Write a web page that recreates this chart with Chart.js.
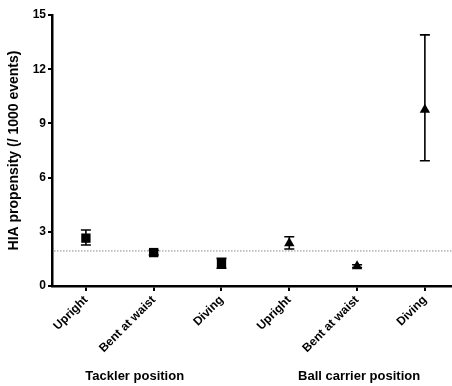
<!DOCTYPE html>
<html>
<head>
<meta charset="utf-8">
<script src="https://cdn.jsdelivr.net/npm/chart.js@4/dist/chart.umd.min.js"></script>
<style>
  html, body { margin: 0; padding: 0; background: #fff; }
  #wrap { width: 452px; height: 386px; }
</style>
</head>
<body>
<div id="wrap"><canvas id="hiaChart"></canvas></div>
<script>
// categories along the x axis
const positionLabels = ["Upright", "Bent at waist", "Diving", "Upright", "Bent at waist", "Diving"];
const groupTitles = ["Tackler position", "Ball carrier position"];

// tackler position (squares), x index 0..2
const tacklerMean = [2.65, 1.85, 1.25];
const tacklerLow = [2.27, 1.72, 0.98];
const tacklerHigh = [3.1, 1.98, 1.53];

// ball carrier position (triangles), x index 3..5
const carrierMean = [2.36, 1.1, 9.75];
const carrierLow = [2.05, 1.02, 6.93];
const carrierHigh = [2.73, 1.18, 13.9];

// overall propensity (dotted line)
const overallRate = 1.94;

const yTicks = [0, 3, 6, 9, 12, 15];

const fontFamily = "'Liberation Sans', Arial, sans-serif";

const tacklerPoints = tacklerMean.map((v, i) => ({ x: i, y: v, lo: tacklerLow[i], hi: tacklerHigh[i] }));
const carrierPoints = carrierMean.map((v, i) => ({ x: i + 3, y: v, lo: carrierLow[i], hi: carrierHigh[i] }));

// error bars + dotted reference line + group titles
const extrasPlugin = {
    id: "extras",
    beforeDatasetsDraw(chart) {
        const ctx = chart.ctx;
        const xs = chart.scales.x;
        const ys = chart.scales.y;
        const area = chart.chartArea;
        const yRef = ys.getPixelForValue(overallRate);
        ctx.save();
        ctx.strokeStyle = "#8a8a8a";
        ctx.lineWidth = 1;
        ctx.setLineDash([1.5, 1.5]);
        ctx.beginPath();
        ctx.moveTo(area.left + 2, yRef);
        ctx.lineTo(area.right, yRef);
        ctx.stroke();
        ctx.restore();

        ctx.save();
        ctx.strokeStyle = "#000";
        ctx.lineWidth = 1.6;
        chart.data.datasets.forEach(ds => {
            ds.data.forEach(p => {
                const px = xs.getPixelForValue(p.x);
                const top = ys.getPixelForValue(p.hi);
                const bot = ys.getPixelForValue(p.lo);
                const cap = 5;
                ctx.beginPath();
                ctx.moveTo(px, top);
                ctx.lineTo(px, bot);
                ctx.moveTo(px - cap, top);
                ctx.lineTo(px + cap, top);
                ctx.moveTo(px - cap, bot);
                ctx.lineTo(px + cap, bot);
                ctx.stroke();
            });
        });
        ctx.restore();
    },
    afterDraw(chart) {
        const ctx = chart.ctx;
        const xs = chart.scales.x;
        ctx.save();
        ctx.fillStyle = "#000";
        ctx.font = "bold 13px " + fontFamily;
        ctx.textAlign = "center";
        ctx.textBaseline = "middle";
        ctx.fillText(groupTitles[0], xs.getPixelForValue(0.72), 376);
        ctx.fillText(groupTitles[1], xs.getPixelForValue(4.03), 376);
        ctx.restore();
    }
};

const ctx = document.getElementById("hiaChart").getContext("2d");
new Chart(ctx, {
    type: "scatter",
    data: {
        datasets: [
            {
                label: groupTitles[0],
                data: tacklerPoints,
                pointStyle: "rect",
                pointRadius: 6.6,
                pointHoverRadius: 6.6,
                backgroundColor: "#000",
                borderColor: "#000",
                borderWidth: 0,
                clip: false
            },
            {
                label: groupTitles[1],
                data: carrierPoints,
                pointStyle: "triangle",
                pointRadius: 6,
                pointHoverRadius: 6,
                backgroundColor: "#000",
                borderColor: "#000",
                borderWidth: 0,
                clip: false
            }
        ]
    },
    options: {
        responsive: true,
        maintainAspectRatio: false,
        animation: false,
        layout: { autoPadding: false, padding: { top: 15, right: 0, left: 6, bottom: 0 } },
        plugins: {
            legend: { display: false },
            tooltip: { enabled: false }
        },
        scales: {
            x: {
                type: "linear",
                min: -0.5,
                max: 5.4,
                afterBuildTicks: axis => {
                    axis.ticks = positionLabels.map((_, i) => ({ value: i }));
                },
                afterFit: axis => { axis.height = 100; axis.paddingRight = 0; },
                ticks: {
                    autoSkip: false,
                    minRotation: 45,
                    maxRotation: 45,
                    padding: 2,
                    color: "#000",
                    font: { family: fontFamily, size: 12, weight: "bold" },
                    callback: v => positionLabels[v]
                },
                grid: { display: true, drawOnChartArea: false, tickLength: 5, color: "#000", lineWidth: 2 },
                border: { color: "#000", width: 2.5 }
            },
            y: {
                min: 0,
                max: 15,
                afterBuildTicks: axis => {
                    axis.ticks = yTicks.map(v => ({ value: v }));
                },
                afterFit: axis => { axis.width = 46; },
                ticks: {
                    padding: 2,
                    color: "#000",
                    font: { family: fontFamily, size: 12, weight: "bold" }
                },
                title: {
                    display: true,
                    text: "HIA propensity (/ 1000 events)",
                    color: "#000",
                    padding: { top: 0, bottom: 2 },
                    font: { family: fontFamily, size: 14, weight: "bold" }
                },
                grid: { display: true, drawOnChartArea: false, tickLength: 4, color: "#000", lineWidth: 2 },
                border: { color: "#000", width: 2.5 }
            }
        }
    },
    plugins: [extrasPlugin]
});
</script>
</body>
</html>
